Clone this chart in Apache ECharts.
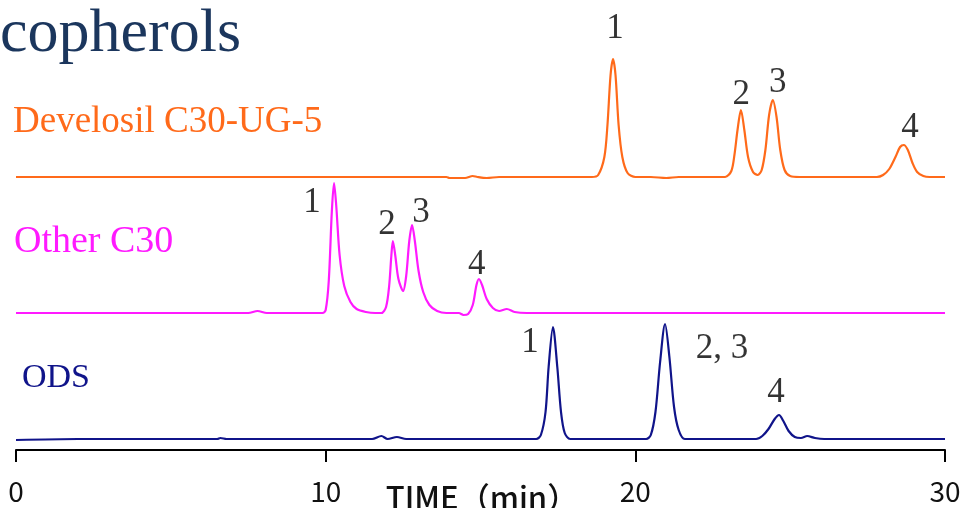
<!DOCTYPE html>
<html>
<head>
<meta charset="utf-8">
<script src="https://cdn.jsdelivr.net/npm/echarts@6/dist/echarts.min.js"></script>
<style>html,body{margin:0;padding:0;background:#fff;}#c{width:964px;height:508px;}</style>
</head>
<body>
<div id="c"></div>
<script>
// ---- data (signal above each trace's own baseline, time in min) ----
const xTicks = [0, 10, 20, 30];
const xAxisTitle = 'TIME（min）';
const traceNames = ['Develosil C30-UG-5', 'Other C30', 'ODS'];

const develosilTrace = [
  [0,0],[2,0],[4,0],[6,0],[8,0],[10,0],[12,0],[13.9,0],[14.0,-1],[14.5,-1],[14.75,1],[14.9,0],[15.2,-1],[15.6,0],
  [17,0],[18.6,0],[18.8,2],[19.0,20],[19.1,52],[19.2,102],[19.28,118],[19.36,102],[19.46,52],[19.58,20],[19.75,4],[20.0,0],
  [20.5,0],[21.0,-1],[21.4,0],[22.9,0],[23.1,6],[23.2,22],[23.3,47],[23.41,67],[23.52,47],[23.64,20],[23.8,5],[23.95,2],
  [24.08,7],[24.2,27],[24.32,62],[24.44,77],[24.56,60],[24.68,27],[24.82,7],[25.0,1],[25.3,0],
  [27.0,0],[27.8,0],[28.0,2],[28.2,8],[28.4,20],[28.55,30],[28.67,32],[28.8,27],[28.95,14],[29.1,5],[29.3,1],[29.5,0],[30,0]
];
const otherC30Trace = [
  [0,0],[2,0],[4,0],[6,0],[7.5,0],[7.8,2],[8.1,0],[9.9,0],[10.0,3],[10.1,32],[10.2,102],[10.27,130],[10.34,108],[10.45,58],
  [10.6,27],[10.8,11],[11.0,4],[11.3,1],[11.6,0],[11.8,0],[11.95,6],[12.05,27],[12.12,57],[12.17,72],[12.25,57],[12.35,34],
  [12.5,22],[12.6,37],[12.7,72],[12.79,88],[12.88,72],[13.0,42],[13.15,21],[13.35,8],[13.6,2],[13.9,0],
  [14.3,0],[14.45,-2],[14.6,-1],[14.75,8],[14.87,28],[14.95,34],[15.05,28],[15.2,14],[15.4,5],[15.6,2],[15.85,4],[16.1,1],
  [16.5,0],[18,0],[20,0],[22,0],[24,0],[26,0],[28,0],[30,0]
];
const odsTrace = [
  [0,-1],[2,0],[4,0],[6,0],[6.5,0],[6.6,1],[6.8,0],[9,0],[11.5,0],[11.8,3],[12.0,0],[12.3,2],[12.6,0],[14,0],[16.8,0],
  [16.95,4],[17.1,27],[17.2,72],[17.34,112],[17.48,72],[17.6,27],[17.72,6],[17.9,0],[19,0],
  [20.35,0],[20.5,4],[20.65,27],[20.8,77],[20.96,115],[21.1,82],[21.25,32],[21.4,9],[21.6,0],[23,0],
  [23.9,0],[24.1,3],[24.3,10],[24.5,20],[24.64,24],[24.78,18],[24.95,8],[25.15,2],[25.35,1],[25.55,3],[25.8,1],[26.1,0],[28,0],[30,0]
];
// peak number annotations: [time, signal level, text]
const develosilPeaks = [[19.34,148,'1'],[23.42,82,'2'],[24.6,94,'3'],[28.87,49,'4']];
const otherC30Peaks = [[9.56,110,'1'],[11.98,88,'2'],[13.08,100,'3'],[14.88,48,'4']];
const odsPeaks = [[16.6,96,'1'],[22.8,90,'2, 3'],[24.54,46,'4']];

// ---- layout ----
const baselines = [273, 137, 11];
const colors = ['#ff6a1a', '#ff1aff', '#10148a'];
const serif = '"Liberation Serif", "DejaVu Serif", serif';
const sans = '"Noto Sans CJK JP", "DejaVu Sans", sans-serif';

function shift(trace, off) { return trace.map(p => [p[0], p[1] + off]); }
function peakSeries(peaks, off) {
  return {
    type: 'scatter', symbolSize: 0, silent: true, clip: false,
    data: peaks.map(p => ({ value: [p[0], p[1] + off], name: p[2] })),
    label: { show: true, position: 'inside', formatter: p => p.name,
      color: '#000', fontFamily: serif, fontSize: 35 }
  };
}
const traces = [develosilTrace, otherC30Trace, odsTrace];
const peaks = [develosilPeaks, otherC30Peaks, odsPeaks];

const series = [];
traces.forEach((t, i) => {
  series.push({ type: 'line', name: traceNames[i], data: shift(t, baselines[i]), showSymbol: false,
    smooth: 0.3, lineStyle: { color: colors[i], width: 2.2 }, silent: true });
});
peaks.forEach((p, i) => series.push(peakSeries(p, baselines[i])));

const chart = echarts.init(document.getElementById('c'), null, { renderer: 'canvas' });
chart.setOption({
  animation: false,
  grid: { left: 16, right: 19, top: 10, bottom: 58, containLabel: false, outerBoundsMode: 'none' },
  xAxis: {
    type: 'value', min: 0, max: 30, interval: 10,
    axisLine: { lineStyle: { color: '#000', width: 2 } },
    axisTick: { length: 12, lineStyle: { color: '#000', width: 2 } },
    axisLabel: { margin: 27, fontSize: 28, color: '#111', showMinLabel: true, showMaxLabel: true,
      fontFamily: sans,
      formatter: v => xTicks.indexOf(v) >= 0 ? String(v) : '' },
    splitLine: { show: false }
  },
  yAxis: { type: 'value', min: 0, max: 440, show: false, splitLine: { show: false } },
  graphic: [
    { type: 'text', left: 0, top: 4, style: { text: 'copherols', font: '62px ' + serif, fill: '#1b365d' } },
    { type: 'text', left: 13, top: 104, style: { text: traceNames[0], font: '37px ' + serif, fill: colors[0] } },
    { type: 'text', left: 14, top: 223, style: { text: traceNames[1], font: '38px ' + serif, fill: colors[1] } },
    { type: 'text', left: 22, top: 361, style: { text: traceNames[2], font: '34px ' + serif, fill: colors[2] } },
    { type: 'text', x: 482, y: 497, style: { text: xAxisTitle, font: '500 31px ' + sans, fill: '#111',
      align: 'center', verticalAlign: 'middle' } }
  ],
  series: series
});
</script>
</body>
</html>
